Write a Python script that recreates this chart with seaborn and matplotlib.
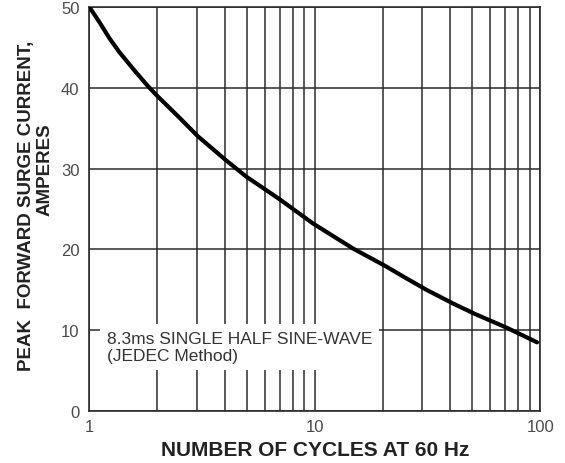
import matplotlib
matplotlib.use("Agg")
import matplotlib.pyplot as plt
import seaborn as sns
import pandas as pd
from matplotlib.ticker import FixedLocator, NullFormatter

cycles = [1, 1.11, 1.23, 1.36, 1.59, 1.82, 2.0, 2.51, 3.03, 4.05, 4.97, 6.99, 9.83, 14.8, 20.4, 25.2, 31.3, 41.1, 51.5, 71.2, 96.9]
current = [50, 48.1, 46.1, 44.4, 42.1, 40.2, 39.0, 36.3, 34.0, 31.0, 29.0, 26.2, 23.2, 20.1, 18.0, 16.5, 15.0, 13.3, 12.0, 10.3, 8.5]
x_ticks = [1, 10, 100]
x_tick_labels = ["1", "10", "100"]
y_ticks = [0, 10, 20, 30, 40, 50]
minor_x = [2, 3, 4, 5, 6, 7, 8, 9, 20, 30, 40, 50, 60, 70, 80, 90]

sns.set_theme(style="white")
plt.rcParams['font.family'] = ['Liberation Sans', 'DejaVu Sans']

df = pd.DataFrame({"cycles": cycles, "current": current})

fig = plt.figure(figsize=(5.65, 4.64), dpi=100)
ax = fig.add_axes([0.158, 0.112, 0.798, 0.871])
ax.set_xscale("log")
ax.set_xlim(1, 100)
ax.set_ylim(0, 50)

gc = "#2b2b2b"
ax.xaxis.set_major_locator(FixedLocator(x_ticks))
ax.xaxis.set_minor_locator(FixedLocator(minor_x))
ax.xaxis.set_minor_formatter(NullFormatter())
ax.set_xticklabels(x_tick_labels)
ax.set_yticks(y_ticks)
ax.grid(True, which="major", color=gc, linewidth=1.1)
ax.grid(True, which="minor", axis="x", color=gc, linewidth=1.1)
ax.tick_params(which="both", length=0, labelsize=12, labelcolor="#4a4a4a")
ax.tick_params(axis="x", pad=6)
ax.tick_params(axis="y", pad=7)
for s in ax.spines.values():
    s.set_color(gc)
    s.set_linewidth(1.2)

sns.lineplot(data=df, x="cycles", y="current", ax=ax, color="black", linewidth=3.0, zorder=5)
ax.set_ylabel("")

ax.text(1.2, 7.9, "8.3ms SINGLE HALF SINE-WAVE\n(JEDEC Method)", fontsize=12.5, color="#333333",
        va="center", ha="left", linespacing=1.15, zorder=6,
        bbox=dict(facecolor="white", edgecolor="none", pad=5))

ax.set_xlabel("NUMBER OF CYCLES AT 60 Hz", fontsize=15, fontweight="bold", color="#222222", labelpad=4)
fig.text(27 / 565, 1 - 206 / 464, "PEAK  FORWARD SURGE CURRENT,", rotation=90, ha="center", va="center",
         fontsize=13.5, fontweight="bold", color="#222222")
fig.text(45 / 565, 1 - 170 / 464, "AMPERES", rotation=90, ha="center", va="center",
         fontsize=13.5, fontweight="bold", color="#222222")

fig.savefig("out.png", dpi=100)
